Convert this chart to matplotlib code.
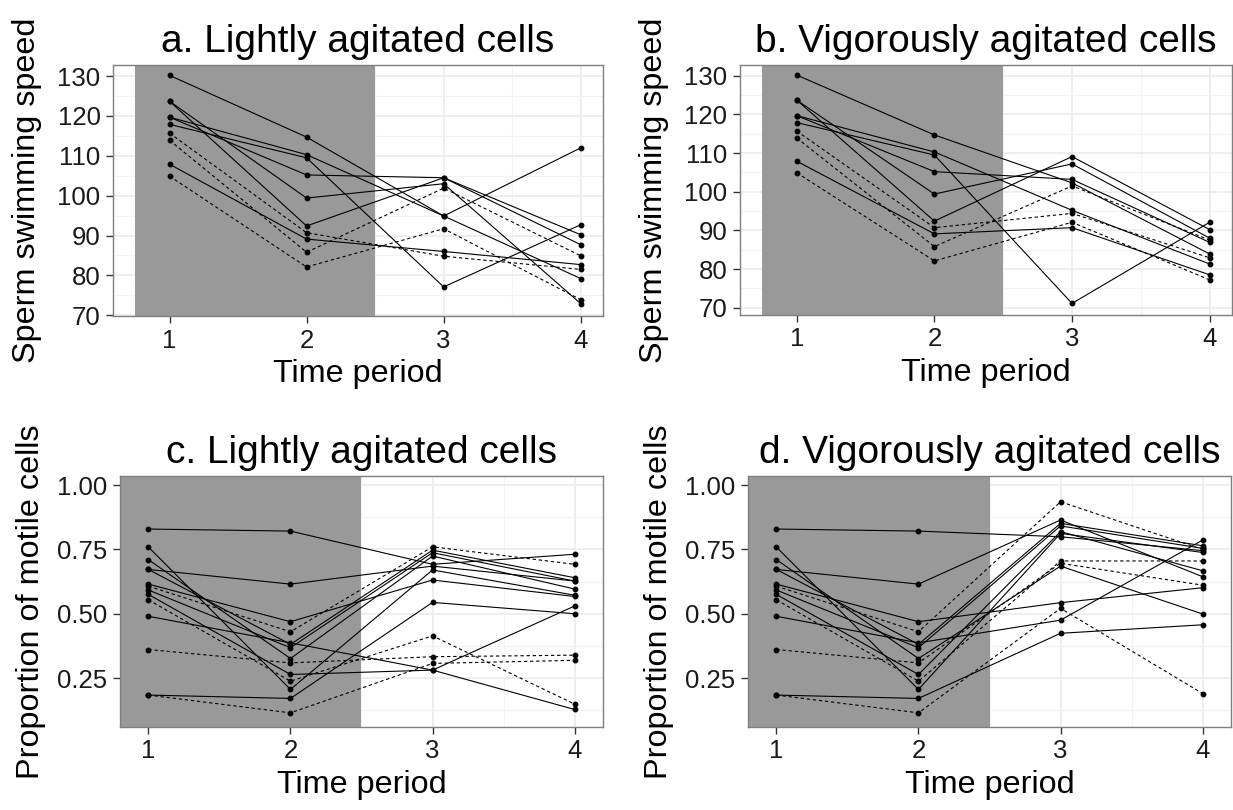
import matplotlib
matplotlib.use("Agg")
import matplotlib.pyplot as plt
from matplotlib.ticker import MultipleLocator, FormatStrFormatter

plt.rcParams['font.family'] = ['Liberation Sans', 'DejaVu Sans']

# periodos de tiempo
time = [1, 2, 3, 4]

# velocidad de nado (a: agitacion ligera, b: agitacion vigorosa)
speed_light = [
    [130.2, 114.7, 94.9, 112.0],
    [123.7, 92.4, 104.5, 90.2],
    [123.7, 99.4, 103.0, 72.9],
    [119.7, 110.3, 94.9, 79.2],
    [119.7, 105.2, 104.5, 87.7],
    [117.9, 109.5, 77.1, 92.7],
    [115.7, 90.7, 84.8, 81.5],
    [113.9, 85.8, 101.9, 84.9],
    [107.9, 89.1, 86.0, 82.7],
    [104.9, 82.1, 91.7, 73.9],
]
speed_vigorous = [
    [130.2, 114.7, 102.3, 83.9],
    [123.7, 92.4, 109.1, 90.2],
    [123.7, 99.4, 107.2, 88.0],
    [119.7, 110.3, 95.2, 81.3],
    [119.7, 105.2, 103.2, 86.9],
    [117.9, 109.5, 71.1, 92.1],
    [115.7, 90.7, 94.4, 82.9],
    [113.9, 85.8, 101.5, 87.5],
    [107.9, 89.1, 90.7, 78.5],
    [104.9, 82.1, 92.1, 77.2],
]
speed_group = ['A', 'A', 'A', 'A', 'A', 'A', 'B', 'B', 'A', 'B']

# proporcion de celulas moviles (c: ligera, d: vigorosa)
prop_light = [
    [0.829, 0.821, 0.692, 0.731],
    [0.759, 0.206, 0.670, 0.572],
    [0.710, 0.326, 0.724, 0.596],
    [0.672, 0.615, 0.685, 0.627],
    [0.672, 0.381, 0.747, 0.640],
    [0.615, 0.469, 0.631, 0.567],
    [0.592, 0.368, 0.737, 0.627],
    [0.575, 0.264, 0.281, 0.530],
    [0.490, 0.387, 0.281, 0.128],
    [0.184, 0.171, 0.544, 0.500],
    [0.607, 0.430, 0.760, 0.692],
    [0.554, 0.238, 0.414, 0.149],
    [0.361, 0.309, 0.333, 0.339],
    [0.184, 0.115, 0.307, 0.319],
]
prop_vigorous = [
    [0.829, 0.821, 0.799, 0.745],
    [0.759, 0.206, 0.812, 0.738],
    [0.710, 0.326, 0.685, 0.499],
    [0.672, 0.615, 0.864, 0.644],
    [0.672, 0.381, 0.851, 0.764],
    [0.615, 0.469, 0.543, 0.601],
    [0.592, 0.368, 0.841, 0.754],
    [0.575, 0.264, 0.819, 0.667],
    [0.490, 0.387, 0.475, 0.786],
    [0.184, 0.171, 0.424, 0.457],
    [0.607, 0.430, 0.935, 0.750],
    [0.554, 0.238, 0.705, 0.705],
    [0.361, 0.309, 0.696, 0.611],
    [0.184, 0.115, 0.521, 0.190],
]
prop_group = ['A'] * 10 + ['B'] * 4

titles = ["a. Lightly agitated cells", "b. Vigorously agitated cells",
          "c. Lightly agitated cells", "d. Vigorously agitated cells"]

W, H = 1233, 810
fig = plt.figure(figsize=(W / 100, H / 100), dpi=100)

# cajas de los paneles en pixeles (izq, arriba, der, abajo)
boxes = [(113, 65, 603, 316), (740, 65, 1232, 315),
         (120, 476, 603, 727), (748, 476, 1231, 727)]


def panel(box, series, groups, title, ylabel, shade_from, xlim, ylim,
          major, minor, fmt, ypad):
    l, t, r, b = box
    ax = fig.add_axes([l / W, 1 - b / H, (r - l) / W, (b - t) / H])
    ax.axvspan(shade_from, 2.5, color='#999999', lw=0, zorder=1)
    for vals, g in zip(series, groups):
        ls = (0, (3, 2.5)) if g == 'B' else '-'
        ax.plot(time, vals, color='black', lw=0.8, ls=ls, zorder=3)
        ax.plot(time, vals, 'o', color='black', ms=3.2, zorder=4)
    ax.set_xlim(*xlim)
    ax.set_ylim(*ylim)
    ax.set_xticks(time)
    ax.xaxis.set_minor_locator(MultipleLocator(0.5))
    ax.yaxis.set_major_locator(MultipleLocator(major))
    ax.yaxis.set_minor_locator(MultipleLocator(minor))
    ax.yaxis.set_major_formatter(FormatStrFormatter(fmt))
    ax.set_axisbelow(True)
    ax.grid(which='major', color='#EBEBEB', lw=1.2, zorder=0)
    ax.grid(which='minor', color='#F3F3F3', lw=0.8, zorder=0)
    ax.tick_params(which='major', length=5, width=1, color='#333333',
                   labelsize=18.5, labelcolor='#1a1a1a', pad=4)
    ax.tick_params(which='minor', length=0)
    for s in ax.spines.values():
        s.set_color('#7F7F7F')
        s.set_linewidth(1.0)
        s.set_zorder(5)
    ax.set_title(title, fontsize=28, pad=9)
    ax.set_xlabel("Time period", fontsize=23.3, labelpad=5)
    ax.set_ylabel(ylabel, fontsize=23.3, labelpad=ypad)
    return ax


panel(boxes[0], speed_light, speed_group, titles[0], "Sperm swimming speed",
      0.75, (0.5875, 4.1625), (69.8, 132.8), 10, 5, '%d', 11)
panel(boxes[1], speed_vigorous, speed_group, titles[1], "Sperm swimming speed",
      0.75, (0.5875, 4.1625), (68.1, 132.8), 10, 5, '%d', 11)
panel(boxes[2], prop_light, prop_group, titles[2], "Proportion of motile cells",
      0.0, (0.8, 4.2), (0.06, 1.035), 0.25, 0.125, '%.2f', 8)
panel(boxes[3], prop_vigorous, prop_group, titles[3], "Proportion of motile cells",
      0.0, (0.8, 4.2), (0.06, 1.035), 0.25, 0.125, '%.2f', 8)

fig.savefig("out.png", dpi=100)
